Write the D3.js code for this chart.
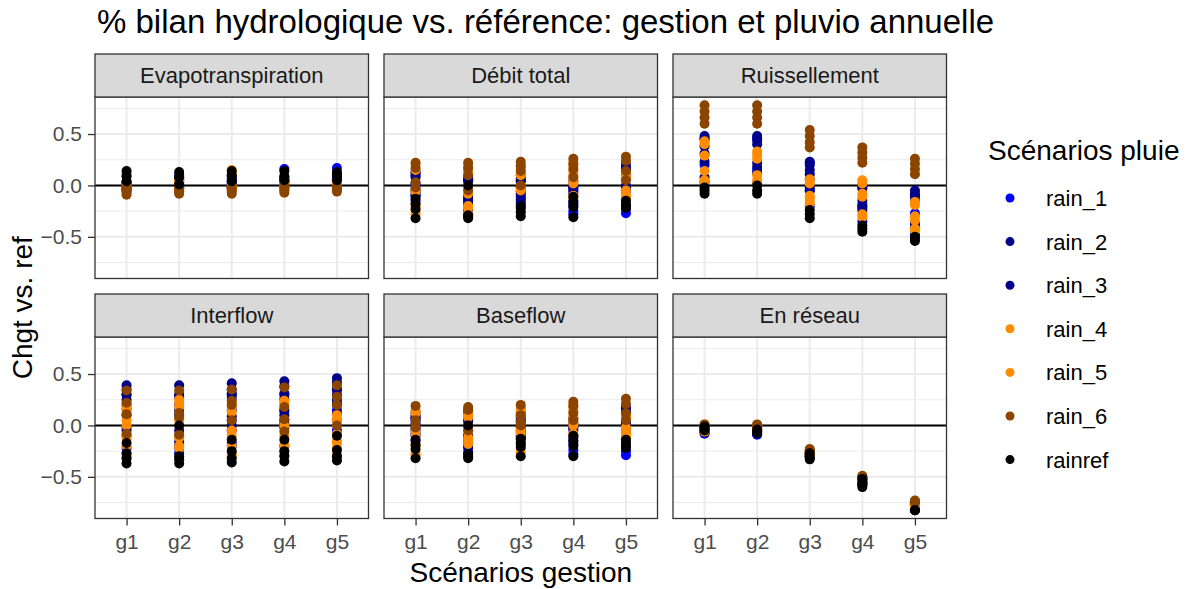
<!DOCTYPE html>
<html>
<head>
<meta charset="utf-8">
<script src="https://cdn.jsdelivr.net/npm/d3@7"></script>
<style>
  html, body { margin: 0; padding: 0; background: #ffffff; }
  svg { display: block; font-family: "Liberation Sans", Arial, sans-serif; }
</style>
</head>
<body>
<svg id="chart" width="1192" height="589"></svg>
<script>
// Management scenarios (x axis) and rainfall scenarios (colour)
const gestions = ["g1", "g2", "g3", "g4", "g5"];
const rainScenarios = ["rain_1", "rain_2", "rain_3", "rain_4", "rain_5", "rain_6", "rainref"];
const rainColours = ["#0000FF", "#00008B", "#00008B", "#FF8C00", "#FF8C00", "#8B4500", "#000000"];
const facetTitles = ["Evapotranspiration", "Débit total", "Ruissellement", "Interflow", "Baseflow", "En réseau"];
const yTicks = [-0.5, 0, 0.5];
const yMinorTicks = [-0.75, -0.25, 0.25, 0.75];

// Relative change vs. reference, one row per rain scenario: values for g1..g5
const evapotranspiration = [
  ["rain_1",  [0.00, -0.02, -0.05], [0.06, 0.00, -0.03], [0.05, 0.01, -0.03], [0.16, 0.04, -0.01], [0.17, 0.06, 0.00]],
  ["rain_2",  [0.02, -0.01, -0.04], [0.10, 0.03, -0.02], [0.07, 0.02, -0.02], [0.06, 0.02, -0.02], [0.09, 0.05, 0.01]],
  ["rain_3",  [0.03, 0.00, -0.03], [0.08, 0.05, -0.01], [0.09, 0.04, -0.01], [0.08, 0.03, 0.00], [0.11, 0.07, 0.02]],
  ["rain_4",  [0.12, 0.00, -0.07], [0.05, -0.02, -0.05], [0.15, 0.00, -0.05], [0.03, -0.01, -0.05], [0.04, 0.00, -0.04]],
  ["rain_5",  [0.10, -0.02, -0.06], [0.03, -0.03, -0.06], [0.12, -0.02, -0.04], [0.02, -0.02, -0.04], [0.03, -0.01, -0.03]],
  ["rain_6",  [-0.02, -0.06, -0.09], [-0.03, -0.06, -0.08], [-0.02, -0.05, -0.08], [-0.01, -0.04, -0.07], [-0.01, -0.03, -0.06]],
  ["rainref", [0.14, 0.09, 0.04], [0.13, 0.08, 0.01], [0.14, 0.10, 0.04], [0.14, 0.09, 0.05], [0.13, 0.10, 0.05]]
];

const debitTotal = [
  ["rain_1",  [0.12, 0.00, -0.15, -0.10], [0.06, -0.14, -0.27, -0.24], [0.05, -0.10, -0.18, -0.16], [-0.02, -0.20, -0.28, -0.25], [-0.05, -0.18, -0.27, -0.23]],
  ["rain_2",  [0.13, 0.08, -0.10, -0.05], [0.08, -0.12, -0.20, 0.04], [0.07, -0.02, -0.12, 0.04], [0.04, -0.04, -0.18, -0.08], [0.20, 0.10, -0.02, 0.16]],
  ["rain_3",  [0.10, 0.02, -0.05, -0.08], [0.05, -0.10, -0.17, -0.15], [0.10, -0.08, -0.14, -0.06], [0.00, -0.06, -0.15, -0.02], [0.17, 0.00, -0.05, 0.07]],
  ["rain_4",  [0.20, -0.06, -0.18, -0.28], [0.15, -0.08, -0.20, -0.27], [0.17, -0.05, -0.25, 0.10], [0.22, 0.05, -0.12, 0.13], [0.12, -0.05, -0.14, -0.10]],
  ["rain_5",  [0.15, -0.04, -0.20, -0.25], [0.12, -0.03, -0.22, 0.19], [0.19, -0.02, -0.22, 0.12], [0.19, 0.02, -0.10, 0.10], [0.08, -0.10, -0.16, -0.12]],
  ["rain_6",  [0.22, 0.17, 0.03, -0.02], [0.22, 0.10, -0.05, 0.17], [0.23, 0.14, 0.00, 0.19], [0.26, 0.16, 0.08, 0.21], [0.28, 0.14, 0.05, 0.24]],
  ["rainref", [-0.13, -0.23, -0.32, -0.18], [0.00, -0.29, -0.32, -0.30], [-0.20, -0.26, -0.30, -0.22], [-0.11, -0.21, -0.31, -0.16], [-0.15, -0.19, -0.22, -0.20]]
];

const ruissellement = [
  ["rain_1",  [0.45, 0.20, 0.03], [0.46, 0.15, 0.02], [0.22, -0.05, -0.20], [-0.02, -0.20, -0.35], [-0.10, -0.27, -0.48]],
  ["rain_2",  [0.48, 0.38, 0.23], [0.48, 0.40, 0.22], [0.23, 0.15, 0.11, -0.02], [-0.03, -0.19, -0.24], [-0.05, -0.11, -0.39]],
  ["rain_3",  [0.46, 0.31, 0.08], [0.44, 0.18, 0.12], [0.20, 0.06, -0.05], [0.00, -0.15, -0.22], [-0.08, -0.14, -0.37]],
  ["rain_4",  [0.43, 0.29, 0.04], [0.30, 0.10, 0.05], [0.06, -0.10, -0.15], [0.05, -0.11, -0.31], [-0.19, -0.34, -0.44]],
  ["rain_5",  [0.40, 0.14, 0.05], [0.33, 0.26, 0.02], [0.02, -0.12, -0.18], [0.02, -0.08, -0.28], [-0.16, -0.30, -0.42]],
  ["rain_6",  [0.78, 0.72, 0.66, 0.60], [0.78, 0.72, 0.66, 0.60], [0.54, 0.48, 0.42, 0.37], [0.37, 0.32, 0.27, 0.22], [0.26, 0.21, 0.16, 0.11]],
  ["rainref", [-0.02, -0.05, -0.08], [0.00, -0.05, -0.08], [-0.24, -0.28, -0.32], [-0.39, -0.42, -0.45], [-0.50, -0.52, -0.54]]
];

const interflow = [
  ["rain_1",  [0.35, 0.20, -0.10, -0.22], [0.20, -0.10, -0.27, -0.22], [0.30, 0.05, -0.20, -0.17], [0.30, 0.05, -0.20, 0.14], [0.35, 0.15, -0.05, 0.25]],
  ["rain_2",  [0.39, 0.25, -0.02, 0.30], [0.39, 0.15, -0.16, 0.28], [0.41, 0.27, 0.00, 0.15], [0.43, 0.26, 0.10, -0.02], [0.46, 0.30, 0.12, 0.20]],
  ["rain_3",  [0.30, 0.10, -0.05, 0.16], [0.30, -0.05, -0.20, 0.10], [0.35, 0.09, -0.05, 0.31], [0.38, 0.15, 0.02, 0.31], [0.42, 0.22, 0.05, 0.35]],
  ["rain_4",  [0.19, 0.05, -0.31, -0.20], [0.22, 0.05, -0.20, -0.12], [0.21, -0.10, -0.30, -0.20], [0.24, 0.20, -0.29, -0.19], [0.10, -0.17, -0.30, -0.22]],
  ["rain_5",  [0.15, 0.00, -0.28, -0.13], [0.25, -0.10, -0.22, 0.18], [0.18, -0.05, -0.28, 0.13], [0.22, 0.00, -0.25, -0.10], [0.05, -0.15, -0.28, -0.08]],
  ["rain_6",  [0.34, 0.11, -0.08, 0.22], [0.34, 0.08, -0.09, 0.12], [0.35, 0.20, 0.05, 0.24], [0.37, 0.18, -0.06, 0.06], [0.39, 0.20, 0.00, 0.28]],
  ["rainref", [-0.17, -0.27, -0.37, -0.32], [0.00, -0.30, -0.37, -0.33], [-0.14, -0.25, -0.36, -0.32], [-0.14, -0.25, -0.35, -0.30], [-0.10, -0.24, -0.34, -0.30]]
];

const baseflow = [
  ["rain_1",  [0.07, -0.03, -0.15, -0.10], [0.06, -0.10, -0.26, -0.20], [0.03, -0.10, -0.18, -0.14], [-0.02, -0.18, -0.28, -0.24], [-0.05, -0.15, -0.25, -0.29]],
  ["rain_2",  [0.10, 0.02, -0.08, 0.13], [0.14, -0.14, -0.22, 0.04], [0.08, -0.05, -0.12, 0.12], [0.02, -0.05, -0.15, -0.10], [0.18, 0.08, -0.02, 0.13]],
  ["rain_3",  [0.08, 0.00, -0.05, 0.05], [0.12, -0.10, -0.20, -0.17], [0.05, -0.02, -0.10, -0.07], [0.00, -0.02, -0.12, 0.07], [0.15, 0.00, -0.05, 0.03]],
  ["rain_4",  [0.15, -0.05, -0.29, -0.20], [0.11, -0.03, -0.18, 0.08], [0.15, -0.08, -0.26, 0.17], [0.17, 0.03, -0.10, 0.09], [0.10, -0.05, -0.14, -0.10]],
  ["rain_5",  [0.12, -0.10, -0.27, -0.18], [0.09, -0.06, -0.15, -0.12], [0.16, -0.04, -0.23, 0.10], [0.20, 0.00, -0.08, 0.14], [0.07, -0.08, -0.12, -0.02]],
  ["rain_6",  [0.19, 0.05, 0.00, -0.02], [0.18, 0.00, -0.05, 0.15], [0.20, 0.10, 0.00, 0.03], [0.23, 0.12, 0.05, 0.19], [0.26, 0.12, 0.05, 0.21]],
  ["rainref", [-0.14, -0.23, -0.32, -0.19], [0.00, -0.28, -0.32, -0.30], [-0.13, -0.21, -0.30, -0.17], [-0.10, -0.20, -0.30, -0.15], [-0.14, -0.18, -0.20, -0.22]]
];

const enReseau = [
  ["rain_1",  [-0.03, -0.06, -0.08], [-0.04, -0.07, -0.09], [-0.28, -0.30, -0.31], [-0.55, -0.57, -0.58], [-0.76, -0.78, -0.79]],
  ["rain_2",  [-0.02, -0.05, -0.07], [-0.02, -0.05, -0.08], [-0.27, -0.29, -0.31], [-0.53, -0.55, -0.57], [-0.75, -0.77, -0.78]],
  ["rain_3",  [-0.01, -0.04, -0.06], [-0.03, -0.06, -0.08], [-0.26, -0.28, -0.30], [-0.52, -0.54, -0.56], [-0.75, -0.76, -0.78]],
  ["rain_4",  [0.01, -0.02, -0.06], [0.00, -0.03, -0.06], [-0.26, -0.28, -0.30], [-0.51, -0.53, -0.55], [-0.79, -0.81, -0.825]],
  ["rain_5",  [0.00, -0.03, -0.05], [0.00, -0.02, -0.05], [-0.25, -0.27, -0.29], [-0.50, -0.52, -0.54], [-0.78, -0.80, -0.82]],
  ["rain_6",  [0.01, 0.00, -0.01], [0.01, 0.00, -0.01], [-0.23, -0.24, -0.25], [-0.49, -0.50, -0.51], [-0.73, -0.74, -0.75]],
  ["rainref", [-0.01, -0.03, -0.05], [-0.04, -0.06, -0.07], [-0.27, -0.30, -0.33], [-0.52, -0.56, -0.60], [-0.825, -0.825, -0.825]]
];

const facetData = [evapotranspiration, debitTotal, ruissellement, interflow, baseflow, enReseau];

// ---- layout ----
const svg = d3.select("#chart");
const W = 1192, H = 589;
const panelW = 273.5, panelH = 181.5, stripH = 43;
const colX = [95, 384, 673];
const rowY = [97, 337];
const font = '"Liberation Sans", Arial, sans-serif';

svg.append("rect").attr("width", W).attr("height", H).attr("fill", "#ffffff");

// flatten rows into points
function toPoints(rows) {
  const pts = [];
  rows.forEach(([rain, ...byGestion]) => {
    byGestion.forEach((vals, gi) => {
      vals.forEach(v => pts.push({ rain, gestion: gestions[gi], value: v }));
    });
  });
  return pts;
}
const facetPoints = facetData.map(toPoints);

// shared y scale with 5% expansion, as in ggplot
const allValues = facetPoints.flat().map(d => d.value);
const [vmin, vmax] = d3.extent(allValues);
const pad = (vmax - vmin) * 0.05;
const y = d3.scaleLinear().domain([vmin - pad, vmax + pad]).range([panelH, 0]);
const x = d3.scalePoint().domain(gestions).range([0, panelW]).padding(0.6);
const colour = d3.scaleOrdinal().domain(rainScenarios).range(rainColours);

facetTitles.forEach((title, i) => {
  const col = i % 3, row = Math.floor(i / 3);
  const g = svg.append("g").attr("transform", `translate(${colX[col]},${rowY[row]})`);

  // panel background and grid
  g.append("rect").attr("width", panelW).attr("height", panelH).attr("fill", "#ffffff");
  g.selectAll(".minor").data(yMinorTicks).enter().append("line")
    .attr("x1", 0).attr("x2", panelW)
    .attr("y1", d => y(d)).attr("y2", d => y(d))
    .attr("stroke", "#ebebeb").attr("stroke-width", 1);
  g.selectAll(".major").data(yTicks).enter().append("line")
    .attr("x1", 0).attr("x2", panelW)
    .attr("y1", d => y(d)).attr("y2", d => y(d))
    .attr("stroke", "#ebebeb").attr("stroke-width", 2);
  g.selectAll(".vgrid").data(gestions).enter().append("line")
    .attr("x1", d => x(d)).attr("x2", d => x(d))
    .attr("y1", 0).attr("y2", panelH)
    .attr("stroke", "#ebebeb").attr("stroke-width", 2);

  // reference line at zero
  g.append("line").attr("x1", 0).attr("x2", panelW)
    .attr("y1", y(0)).attr("y2", y(0))
    .attr("stroke", "#000000").attr("stroke-width", 2);

  // points
  g.selectAll(".pt").data(facetPoints[i]).enter().append("circle")
    .attr("cx", d => x(d.gestion)).attr("cy", d => y(d.value))
    .attr("r", 5).attr("fill", d => colour(d.rain));

  // panel border
  g.append("rect").attr("width", panelW).attr("height", panelH)
    .attr("fill", "none").attr("stroke", "#333333").attr("stroke-width", 1.3);

  // strip
  const s = g.append("g").attr("transform", `translate(0,${-stripH})`);
  s.append("rect").attr("width", panelW).attr("height", stripH)
    .attr("fill", "#d9d9d9").attr("stroke", "#333333").attr("stroke-width", 1.3);
  s.append("text").attr("x", panelW / 2).attr("y", stripH / 2)
    .attr("dy", "0.36em").attr("text-anchor", "middle")
    .attr("font-size", 22).attr("fill", "#1a1a1a").text(title);

  // y axis on first column
  if (col === 0) {
    const ax = g.append("g").call(d3.axisLeft(y).tickValues(yTicks)
      .tickFormat(d3.format(".1f")).tickSize(7).tickPadding(6));
    ax.select(".domain").remove();
    ax.selectAll("line").attr("stroke", "#333333").attr("stroke-width", 1.3);
    ax.selectAll("text").attr("font-size", 21).attr("fill", "#4d4d4d")
      .attr("font-family", font);
  }
  // x axis on bottom row
  if (row === 1) {
    const ax = g.append("g").attr("transform", `translate(0,${panelH})`)
      .call(d3.axisBottom(x).tickSize(7).tickPadding(9));
    ax.select(".domain").remove();
    ax.selectAll("line").attr("stroke", "#333333").attr("stroke-width", 1.3);
    ax.selectAll("text").attr("font-size", 21).attr("fill", "#4d4d4d")
      .attr("font-family", font);
  }
});

// titles
svg.append("text").attr("x", 97).attr("y", 33)
  .attr("font-size", 33).attr("fill", "#000000")
  .text("% bilan hydrologique vs. référence: gestion et pluvio annuelle");

svg.append("text").attr("x", (colX[0] + colX[2] + panelW) / 2).attr("y", 582)
  .attr("text-anchor", "middle").attr("font-size", 28).attr("fill", "#000000")
  .text("Scénarios gestion");

svg.append("text")
  .attr("transform", `translate(32,${(rowY[0] + rowY[1] + panelH) / 2}) rotate(-90)`)
  .attr("text-anchor", "middle").attr("font-size", 28).attr("fill", "#000000")
  .text("Chgt vs. ref");

// legend
const lg = svg.append("g").attr("transform", "translate(988,0)");
lg.append("text").attr("x", 0).attr("y", 160)
  .attr("font-size", 28).attr("fill", "#000000").text("Scénarios pluie");
const items = lg.selectAll(".item").data(rainScenarios).enter().append("g")
  .attr("transform", (d, i) => `translate(0,${198 + i * 43.6})`);
items.append("circle").attr("cx", 22).attr("cy", 0).attr("r", 4.5)
  .attr("fill", d => colour(d));
items.append("text").attr("x", 58).attr("y", 0).attr("dy", "0.36em")
  .attr("font-size", 22).attr("fill", "#000000").text(d => d);
</script>
</body>
</html>
